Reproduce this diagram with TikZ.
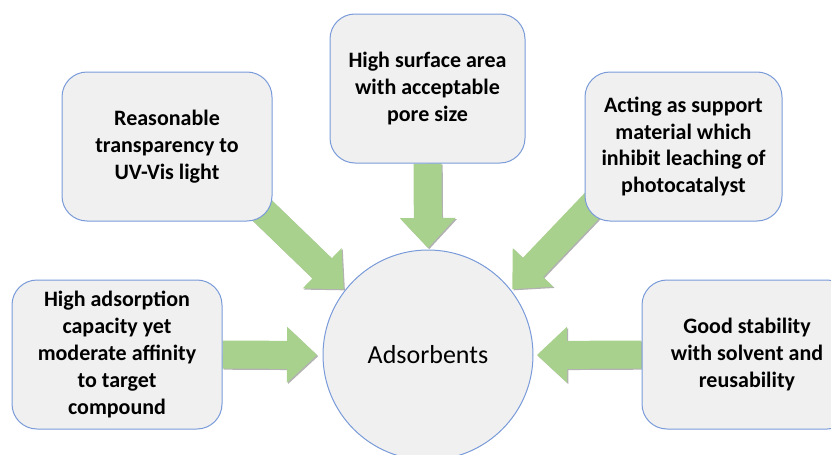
\documentclass[tikz,border=0pt]{standalone}
\usepackage{fontspec}
\setmainfont{Carlito}
\usetikzlibrary{calc,shadows,backgrounds}
\definecolor{boxfill}{HTML}{F0F0F0}
\definecolor{boxline}{HTML}{7A9BD9}
\definecolor{arrowgreen}{HTML}{A9D18E}
\newcommand\blockarrow[2]{%
  \coordinate (bh) at ($(#2)!30pt!(#1)$);
  \fill[arrowgreen, drop shadow={shadow xshift=1.2pt,shadow yshift=-1.2pt,opacity=0.3,fill=black}]
    ($(#1)!14pt!90:(#2)$) -- ($(bh)!14pt!-90:(#1)$) -- ($(bh)!28pt!-90:(#1)$) -- (#2)
    -- ($(bh)!28pt!90:(#1)$) -- ($(bh)!14pt!90:(#1)$) -- ($(#1)!14pt!-90:(#2)$) -- cycle;}
\tikzset{
  infobox/.style={draw=boxline, fill=boxfill, line width=1pt, rounded corners=25pt,
    align=center, inner sep=0pt, font=\bfseries\fontsize{22}{26.8}\selectfont,
    minimum width=#1, minimum height=149pt},
  infobox/.default=210pt,
  hub/.style={circle, draw=boxline, fill=boxfill, line width=1pt, minimum size=210pt,
    inner sep=0pt, outer sep=2pt, font=\fontsize{26}{31}\selectfont}
}
\begin{document}
\begin{tikzpicture}[x=1pt,y=-1pt]
\useasboundingbox (0,0) rectangle (831,455);
\clip (0,0) rectangle (831,455);
\node[infobox=210pt] (b1) at (167,146.5) {Reasonable\\transparency to\\UV-Vis light};
\node[infobox=195pt] (b2) at (427.5,88.5) {High surface area\\with acceptable\\pore size};
\node[infobox=197pt] (b3) at (683.5,146.5) {Acting as support\\material which\\inhibit leaching of\\photocatalyst};
\node[infobox=210pt] (b4) at (117,354.5) {High adsorption\\capacity yet\\moderate affinity\\to target\\compound};
\node[infobox=210pt] (b5) at (747,354.5) {Good stability\\with solvent and\\reusability};
\node[hub] (c) at (428,355) {Adsorbents};
\coordinate (s1) at ($(b1.south east)+(-32,-32)$);
\coordinate (s3) at ($(b3.south west)+(20,-29)$);
\coordinate (t4) at ($(c.west)+(-4,0)$);
\coordinate (t5) at ($(c.east)+(2,0)$);
\begin{scope}[on background layer]
\blockarrow{s1}{c.142}
\blockarrow{b2.south}{c.north}
\blockarrow{s3}{c.38}
\blockarrow{b4.east}{t4}
\blockarrow{b5.west}{t5}
\end{scope}
\end{tikzpicture}
\end{document}
